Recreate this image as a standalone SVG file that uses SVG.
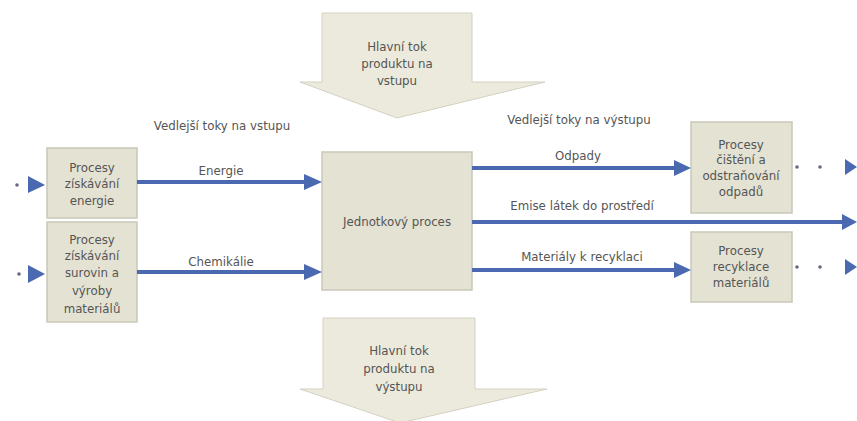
<svg xmlns="http://www.w3.org/2000/svg" width="857" height="421" viewBox="0 0 857 421">
<defs>
<style>
.box{fill:#e4e2d3;stroke:#c9c7b8;stroke-width:1.5}
.big{fill:#ebeadc;stroke:#d3d1c2;stroke-width:1}
.t{font-family:"DejaVu Sans","Liberation Sans",sans-serif;font-size:11.8px;fill:#555555;text-anchor:middle}
.ln{stroke:#4a69b0;stroke-width:4;fill:none}
.hd{fill:#4a69b0}
.dot{fill:#666a80}
</style>
</defs>
<rect width="857" height="421" fill="#ffffff"/>
<g id="main-in">
<polygon class="big" points="322,13 472,13 472,82 545,82 397,118 300,82 322,82"/>
<text class="t" x="397" y="51">Hlavní tok</text>
<text class="t" x="397" y="68">produktu na</text>
<text class="t" x="397" y="85">vstupu</text>
</g>
<g id="main-out">
<polygon class="big" points="323,318 475,318 475,389 547,389 400,423 300,389 323,389"/>
<text class="t" x="399" y="355">Hlavní tok</text>
<text class="t" x="399" y="373">produktu na</text>
<text class="t" x="399" y="391">výstupu</text>
</g>
<g id="energy">
<rect class="box" x="47" y="148" width="90" height="70"/>
<text class="t" x="92" y="172">Procesy</text>
<text class="t" x="92" y="188">získávání</text>
<text class="t" x="92" y="205">energie</text>
</g>
<g id="materials">
<rect class="box" x="47" y="222" width="90" height="100"/>
<text class="t" x="92" y="244">Procesy</text>
<text class="t" x="92" y="260">získávání</text>
<text class="t" x="92" y="277">surovin a</text>
<text class="t" x="92" y="295">výroby</text>
<text class="t" x="92" y="313">materiálů</text>
</g>
<g id="unit">
<rect class="box" x="322" y="152" width="150" height="138"/>
<text class="t" x="397" y="226">Jednotkový proces</text>
</g>
<g id="waste">
<rect class="box" x="691" y="122" width="101" height="91"/>
<text class="t" x="741" y="149">Procesy</text>
<text class="t" x="741" y="164">čištění a</text>
<text class="t" x="741" y="180">odstraňování</text>
<text class="t" x="741" y="196">odpadů</text>
</g>
<g id="recycling">
<rect class="box" x="691" y="232" width="101" height="70"/>
<text class="t" x="741" y="255">Procesy</text>
<text class="t" x="741" y="271">recyklace</text>
<text class="t" x="741" y="287">materiálů</text>
</g>
<g id="labels">
<text class="t" x="222" y="130">Vedlejší toky na vstupu</text>
<text class="t" x="579" y="124">Vedlejší toky na výstupu</text>
</g>
<g id="connectors">
<circle class="dot" cx="17" cy="185" r="1.8"/>
<polygon class="hd" points="28,176 45,185 28,193"/>
<circle class="dot" cx="19" cy="274" r="1.8"/>
<polygon class="hd" points="28,265 45,274 28,283"/>
<line class="ln" x1="137" y1="182" x2="306" y2="182"/>
<polygon class="hd" points="304,174 322,182 304,190"/>
<text class="t" x="221" y="175">Energie</text>
<line class="ln" x1="137" y1="272" x2="306" y2="272"/>
<polygon class="hd" points="304,264 322,272 304,280"/>
<text class="t" x="221" y="266">Chemikálie</text>
<line class="ln" x1="472" y1="168" x2="676" y2="168"/>
<polygon class="hd" points="674,160 691,168 674,176"/>
<text class="t" x="578" y="160">Odpady</text>
<line class="ln" x1="472" y1="222" x2="844" y2="222"/>
<polygon class="hd" points="842,214 857,222 842,230"/>
<text class="t" x="582" y="210">Emise látek do prostředí</text>
<line class="ln" x1="472" y1="270" x2="676" y2="270"/>
<polygon class="hd" points="674,262 691,270 674,278"/>
<text class="t" x="582" y="261">Materiály k recyklaci</text>
<circle class="dot" cx="797" cy="167" r="1.8"/>
<circle class="dot" cx="820" cy="167" r="1.8"/>
<polygon class="hd" points="845,159 857,167 845,175"/>
<circle class="dot" cx="797" cy="267" r="1.8"/>
<circle class="dot" cx="820" cy="267" r="1.8"/>
<polygon class="hd" points="845,259 857,267 845,275"/>
</g>
</svg>
